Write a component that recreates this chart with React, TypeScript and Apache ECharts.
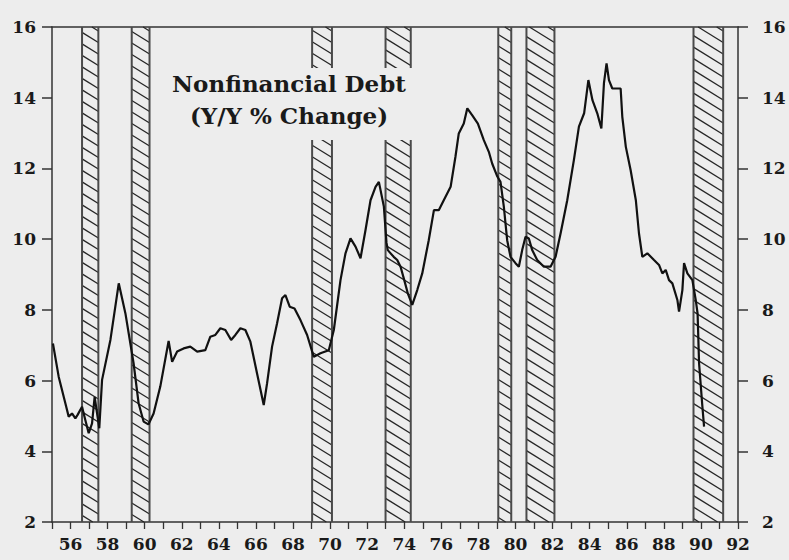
import React, { useEffect, useRef } from 'react';
import * as echarts from 'echarts';

// Time positions (chart years) and Y/Y % change of nonfinancial debt
const years: number[] = [
  1955.05, 1955.36, 1955.72, 1955.9, 1956.08, 1956.26, 1956.38, 1956.62, 1956.8, 1956.98,
  1957.16, 1957.3, 1957.55, 1957.7, 1958.15, 1958.6, 1958.96, 1959.4, 1959.67, 1959.94,
  1960.2, 1960.48, 1960.84, 1961.29, 1961.48, 1961.75, 1962.1, 1962.46, 1962.83, 1963.27,
  1963.54, 1963.81, 1964.08, 1964.35, 1964.66, 1964.89, 1965.16, 1965.43, 1965.7, 1966.06,
  1966.42, 1966.6, 1966.87, 1967.14, 1967.41, 1967.59, 1967.82, 1968.08, 1968.4, 1968.76,
  1969.12, 1969.48, 1969.93, 1970.2, 1970.56, 1970.83, 1971.1, 1971.37, 1971.64, 1971.91,
  1972.18, 1972.45, 1972.63, 1972.9, 1973.04, 1973.11, 1973.43, 1973.62, 1973.8, 1974.0,
  1974.2, 1974.43, 1974.7, 1974.97, 1975.32, 1975.6, 1975.86, 1976.13, 1976.5, 1976.76,
  1976.94, 1977.21, 1977.4, 1977.66, 1977.97, 1978.29, 1978.56, 1978.74, 1979.02, 1979.19,
  1979.37, 1979.55, 1979.73, 1980.0, 1980.18, 1980.36, 1980.54, 1980.72, 1980.9, 1981.17,
  1981.53, 1981.89, 1982.16, 1982.43, 1982.79, 1983.15, 1983.42, 1983.7, 1983.93, 1984.15,
  1984.41, 1984.63, 1984.77, 1984.91, 1985.04, 1985.22, 1985.67, 1985.76, 1985.95, 1986.21,
  1986.49, 1986.66, 1986.84, 1987.11, 1987.47, 1987.74, 1987.92, 1988.1, 1988.28, 1988.46,
  1988.73, 1988.82, 1989.0, 1989.09, 1989.27, 1989.54, 1989.72, 1989.82, 1989.9, 1990.08,
  1990.17,
];

const debtGrowth: number[] = [
  7.05, 6.11, 5.36, 4.98, 5.07, 4.93, 5.03, 5.26, 4.88, 4.51,
  4.79, 5.54, 4.65, 6.02, 7.15, 8.75, 7.9, 6.49, 5.36, 4.84,
  4.76, 5.07, 5.83, 7.12, 6.53, 6.82, 6.91, 6.96, 6.82, 6.86,
  7.24, 7.29, 7.48, 7.43, 7.15, 7.29, 7.48, 7.43, 7.1, 6.2,
  5.31, 5.92, 6.96, 7.62, 8.33, 8.42, 8.09, 8.04, 7.71, 7.29,
  6.67, 6.77, 6.86, 7.43, 8.84, 9.6, 10.02, 9.79, 9.46, 10.26,
  11.1, 11.48, 11.62, 10.92, 9.9, 9.69, 9.5, 9.41, 9.22, 8.84,
  8.45, 8.14, 8.56, 9.03, 9.97, 10.82, 10.82, 11.1, 11.48, 12.33,
  12.99, 13.27, 13.7, 13.51, 13.27, 12.8, 12.47, 12.14, 11.77, 11.62,
  10.92, 9.97, 9.5, 9.32, 9.22, 9.69, 10.07, 10.02, 9.69, 9.41,
  9.22, 9.22, 9.5, 10.16, 11.1, 12.24, 13.18, 13.56, 14.5, 13.93,
  13.56, 13.13, 14.41, 14.97, 14.5, 14.26, 14.26, 13.46, 12.61, 11.95,
  11.1, 10.16, 9.5, 9.6, 9.41, 9.27, 9.03, 9.13, 8.84, 8.75,
  8.28, 7.95, 8.56, 9.32, 9.03, 8.84, 8.28, 7.9, 6.49, 5.26,
  4.7,
];

// Shaded (hatched) periods, in chart years
const recessionStart: number[] = [1956.62, 1959.3, 1969.03, 1972.99, 1979.07, 1980.59, 1989.6];
const recessionEnd: number[] = [1957.5, 1960.26, 1970.1, 1974.35, 1979.77, 1982.1, 1991.2];

const xMin = 1955;
const xMax = 1992;
const yMin = 2;
const yMax = 16;
const yStep = 2;

const titleLines: string[] = ['Nonfinancial Debt', '(Y/Y % Change)'];

const BG = '#ededed';
const INK = '#1a1a1a';
const AXIS = '#333333';
const FONT = '"DejaVu Serif", serif';

export default function App() {
  const ref = useRef<HTMLDivElement>(null);

  useEffect(() => {
    if (!ref.current) return;
    const chart = echarts.init(ref.current, null, { renderer: 'svg' });

    const lineData = years.map((y, i) => [y, debtGrowth[i]]);
    const bandData = recessionStart.map((s, i) => [s, recessionEnd[i]]);

    const renderBand = (params: any, api: any) => {
      const s = api.value(0);
      const e = api.value(1);
      const tl = api.coord([s, yMax]);
      const br = api.coord([e, yMin]);
      const x0 = tl[0];
      const y0 = tl[1];
      const x1 = br[0];
      const y1 = br[1];
      const w = x1 - x0;
      const slope = 0.62;
      const spacing = 11.5;
      const drop = w * slope;
      const children: any[] = [];
      for (let k = y0 - drop + 4; k < y1; k += spacing) {
        let xs = x0;
        let ys = k;
        let xe = x1;
        let ye = k + drop;
        if (ys < y0) {
          xs = x0 + (y0 - ys) / slope;
          ys = y0;
        }
        if (ye > y1) {
          xe = x1 - (ye - y1) / slope;
          ye = y1;
        }
        if (xe <= xs) continue;
        children.push({
          type: 'line',
          shape: { x1: xs, y1: ys, x2: xe, y2: ye },
          style: { stroke: '#262626', lineWidth: 1.3 },
        });
      }
      children.push({
        type: 'line',
        shape: { x1: x0, y1: y0, x2: x0, y2: y1 },
        style: { stroke: '#4a4a4a', lineWidth: 2 },
      });
      children.push({
        type: 'line',
        shape: { x1: x1, y1: y0, x2: x1, y2: y1 },
        style: { stroke: '#4a4a4a', lineWidth: 2 },
      });
      return { type: 'group', children };
    };

    const yAxisCommon = {
      type: 'value',
      min: yMin,
      max: yMax,
      interval: yStep,
      splitLine: { show: false },
      axisLine: { show: true, lineStyle: { color: AXIS, width: 1.5 } },
      axisTick: { show: true, inside: false, length: 10, lineStyle: { color: AXIS, width: 1.5 } },
    };

    chart.setOption({
      animation: false,
      backgroundColor: BG,
      grid: { left: 52, right: 51, top: 27, bottom: 38, show: false },
      xAxis: [
        {
          type: 'value',
          min: xMin,
          max: xMax,
          interval: 1,
          splitLine: { show: false },
          axisLine: { show: true, onZero: false, lineStyle: { color: AXIS, width: 1.5 } },
          axisTick: { show: true, inside: false, length: 7, lineStyle: { color: AXIS, width: 1.3 } },
          axisLabel: {
            margin: 13,
            color: INK,
            fontFamily: FONT,
            fontWeight: 'bold',
            fontSize: 17,
            showMinLabel: true,
            showMaxLabel: true,
            formatter: (v: number) => (Math.round(v) % 2 === 0 ? String(Math.round(v)).slice(2) : ''),
          },
        },
        {
          type: 'value',
          position: 'top',
          min: xMin,
          max: xMax,
          splitLine: { show: false },
          axisLine: { show: true, onZero: false, lineStyle: { color: AXIS, width: 1.5 } },
          axisTick: { show: false },
          axisLabel: { show: false },
        },
      ],
      yAxis: [
        {
          ...yAxisCommon,
          position: 'left',
          axisLabel: { margin: 16, color: INK, fontFamily: FONT, fontWeight: 'bold', fontSize: 17 },
        },
        {
          ...yAxisCommon,
          position: 'right',
          axisLabel: { margin: 24, color: INK, fontFamily: FONT, fontWeight: 'bold', fontSize: 17 },
        },
      ],
      graphic: [
        {
          type: 'rect',
          z: 100,
          shape: { x: 155, y: 68, width: 265, height: 72 },
          style: { fill: BG },
        },
        {
          type: 'text',
          z: 101,
          x: 289,
          y: 67,
          style: {
            text: titleLines.join('\n'),
            fontFamily: FONT,
            fontSize: 23,
            fontWeight: 'bold',
            lineHeight: 32,
            align: 'center',
            verticalAlign: 'top',
            fill: INK,
          },
        },
      ],
      series: [
        {
          type: 'custom',
          name: 'Recessions',
          xAxisIndex: 0,
          yAxisIndex: 0,
          z: 1,
          silent: true,
          renderItem: renderBand,
          encode: { x: [0, 1] },
          data: bandData,
        },
        {
          type: 'line',
          name: 'Nonfinancial Debt',
          xAxisIndex: 0,
          yAxisIndex: 0,
          z: 3,
          showSymbol: false,
          symbol: 'none',
          lineStyle: { color: '#111', width: 2.2 },
          data: lineData,
        },
      ],
    });

    return () => chart.dispose();
  }, []);

  return (
    <div
      ref={ref}
      style={{ position: 'fixed', left: 0, top: 0, width: 789, height: 560, background: BG }}
    />
  );
}
